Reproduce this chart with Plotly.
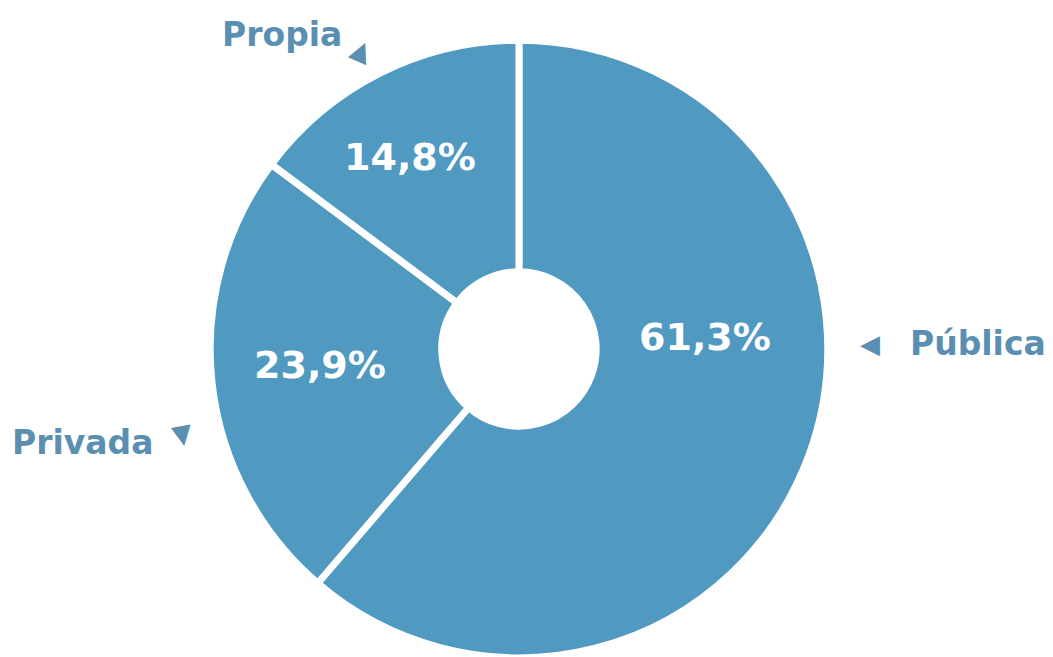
import plotly.graph_objects as go

categories = ["Pública", "Privada", "Propia"]
values = [61.3, 23.9, 14.8]

slice_color = "#509ac2"
label_color = "#5a8fb2"

W, H = 1053, 657
OFF = 8  # page body offset of the rendered plot

fig = go.Figure()
fig.add_trace(go.Pie(
    labels=categories,
    values=values,
    sort=False,
    direction="clockwise",
    rotation=0,
    hole=0.25,
    marker=dict(colors=[slice_color] * 3, line=dict(color="white", width=7)),
    textinfo="none",
    hoverinfo="label+percent",
    showlegend=False,
    domain=dict(x=[0.1918, 0.7787], y=[0.011, 0.951]),
))

def pct(v):
    return f"{v:.1f}%".replace(".", ",")

def px2paper(x, y):
    return (x - OFF) / W, 1 - (y - OFF) / H

# percentage labels (screen positions of each slice label)
pct_pos = {"Pública": (705, 337), "Privada": (320, 365), "Propia": (410, 157)}
for c, v in zip(categories, values):
    x, y = px2paper(*pct_pos[c])
    fig.add_annotation(x=x, y=y, xref="paper", yref="paper",
                       text=pct(v), showarrow=False,
                       font=dict(family="DejaVu Sans", size=38, color="white", weight="bold"),
                       xanchor="center", yanchor="middle")

# outside category labels with triangles
outside = {
    "Pública": dict(tx=978, ty=343, ax=870, ay=344, tri="◀", ang=0),
    "Privada": dict(tx=82, ty=442, ax=182, ay=434, tri="▼", ang=-10),
    "Propia": dict(tx=282, ty=35, ax=362, ay=50, tri="▲", ang=24),
}
for c in categories:
    o = outside[c]
    x, y = px2paper(o["tx"], o["ty"])
    fig.add_annotation(x=x, y=y, xref="paper", yref="paper",
                       text=c, showarrow=False,
                       font=dict(family="DejaVu Sans", size=33, color=label_color, weight="bold"),
                       xanchor="center", yanchor="middle")
    x, y = px2paper(o["ax"], o["ay"])
    fig.add_annotation(x=x, y=y, xref="paper", yref="paper",
                       text=o["tri"], showarrow=False, textangle=o["ang"],
                       font=dict(family="DejaVu Sans", size=26, color=label_color),
                       xanchor="center", yanchor="middle")

fig.update_layout(
    width=W, height=H,
    margin=dict(l=0, r=0, t=0, b=0),
    paper_bgcolor="white",
    plot_bgcolor="white",
)

fig.write_html("out.html")
